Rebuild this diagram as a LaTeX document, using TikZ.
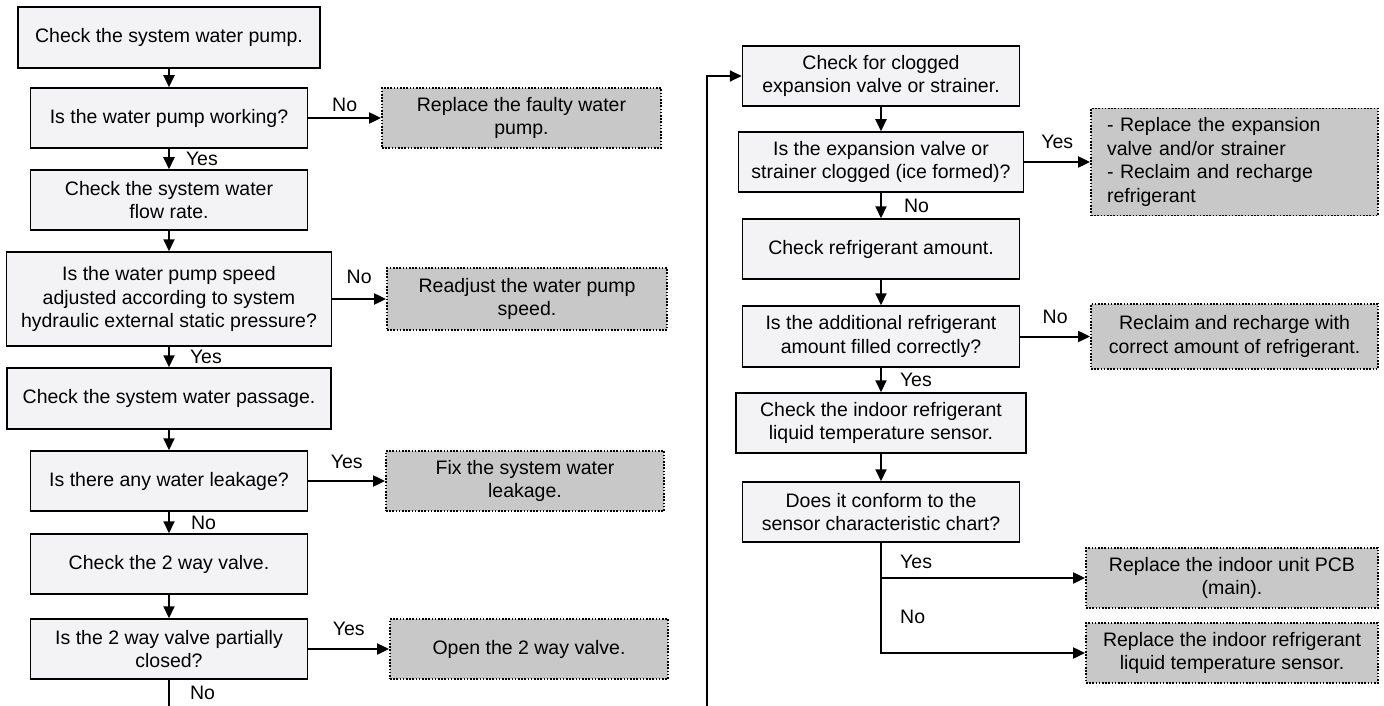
\documentclass[tikz,border=0pt]{standalone}
\usepackage{fontspec}
\setmainfont{Liberation Sans}
\usetikzlibrary{arrows.meta}
\definecolor{boxfill}{HTML}{F3F3F5}
\definecolor{fixfill}{HTML}{C8C8C8}

\begin{document}
\begin{tikzpicture}[x=1pt,y=-1pt,
  every node/.style={font=\fontsize{19.5}{23.5}\selectfont},
  box/.style={draw, line width=1.5pt, fill=boxfill, inner sep=0pt, align=center},
  fix/.style={draw, dash pattern=on 1.6pt off 1.6pt, line width=1.8pt, fill=fixfill, inner sep=0pt, align=center},
  arr/.style={line width=2pt, -{Triangle[length=12pt,width=11pt]}},
  lbl/.style={inner sep=0pt}]
\useasboundingbox (0,0) rectangle (1384,706);

\node[box, minimum width=302, minimum height=61] (pump) at (169,37.5) {Check the system water pump.};
\node[box, minimum width=277, minimum height=60] (working) at (169,118) {Is the water pump working?};
\node[box, minimum width=277, minimum height=60] (flow) at (169,200) {Check the system water\\flow rate.};
\node[box, minimum width=325, minimum height=94] (speed) at (169,299) {Is the water pump speed\\adjusted according to system\\hydraulic external static pressure?};
\node[box, minimum width=324, minimum height=61] (passage) at (169,398.5) {Check the system water passage.};
\node[box, minimum width=277, minimum height=60] (leak) at (169,481) {Is there any water leakage?};
\node[box, minimum width=277, minimum height=60] (valve) at (169,564) {Check the 2 way valve.};
\node[box, minimum width=277, minimum height=60] (closed) at (169,649) {Is the 2 way valve partially\\closed?};

\node[fix, minimum width=279, minimum height=60] (replpump) at (521.5,118) {Replace the faulty water\\pump.};
\node[fix, minimum width=280, minimum height=62] (readjust) at (527,299) {Readjust the water pump\\speed.};
\node[fix, minimum width=278, minimum height=60] (fixleak) at (525,481) {Fix the system water\\leakage.};
\node[fix, minimum width=278, minimum height=60] (openvalve) at (529,649) {Open the 2 way valve.};

\node[box, minimum width=277, minimum height=60] (clog) at (881,76) {Check for clogged\\expansion valve or strainer.};
\node[box, minimum width=285, minimum height=60] (ice) at (881,162) {Is the expansion valve or\\strainer clogged (ice formed)?};
\node[box, minimum width=277, minimum height=60] (amount) at (881,249) {Check refrigerant amount.};
\node[box, minimum width=277, minimum height=61] (filled) at (881,336.5) {Is the additional refrigerant\\amount filled correctly?};
\node[box, minimum width=290, minimum height=60] (sensor) at (881,423) {Check the indoor refrigerant\\liquid temperature sensor.};
\node[box, minimum width=277, minimum height=60] (conform) at (881,512) {Does it conform to the\\sensor characteristic chart?};

\node[fix, minimum width=287, minimum height=107, text width=255, align=left] (replvalve) at (1234.5,162) {- Replace the expansion\\valve and/or strainer\\- Reclaim and recharge\\refrigerant};
\node[fix, minimum width=287, minimum height=65] (recharge) at (1234.5,336.5) {Reclaim and recharge with\\correct amount of refrigerant.};
\node[fix, minimum width=292, minimum height=60] (pcb) at (1232,578) {Replace the indoor unit PCB\\(main).};
\node[fix, minimum width=292, minimum height=60] (replsensor) at (1232,653) {Replace the indoor refrigerant\\liquid temperature sensor.};

\foreach \a/\b/\lab/\dx in {pump/working//16, working/flow/Yes/16, flow/speed//16,
  speed/passage/Yes/20, passage/leak//16, leak/valve/No/21, valve/closed//16,
  clog/ice//16, ice/amount/No/22, amount/filled//16, filled/sensor/Yes/18, sensor/conform//16}
  \draw[arr] (\a) -- node[lbl, right, xshift=\dx pt] {\lab} (\b);

\foreach \a/\b/\lab/\dy in {working/replpump/No/5, speed/readjust/No/14, leak/fixleak/Yes/11,
  closed/openvalve/Yes/12, ice/replvalve/Yes/12, filled/recharge/No/12}
  \draw[arr] (\a) -- node[lbl, above, yshift=\dy pt] {\lab} (\b);

\coordinate (bot) at (169,706);
\draw[line width=2pt] (closed) -- node[lbl, right, xshift=20pt] {No} (bot);
\coordinate (loop) at (707,706);
\draw[arr] (loop) |- (clog);

\draw[arr] (conform) |- (pcb);
\draw[arr] (conform) |- (replsensor);
\node[lbl, anchor=west] (yes) at (900,562) {Yes};
\node[lbl, anchor=west] (no) at (900,617) {No};
\end{tikzpicture}
\end{document}
